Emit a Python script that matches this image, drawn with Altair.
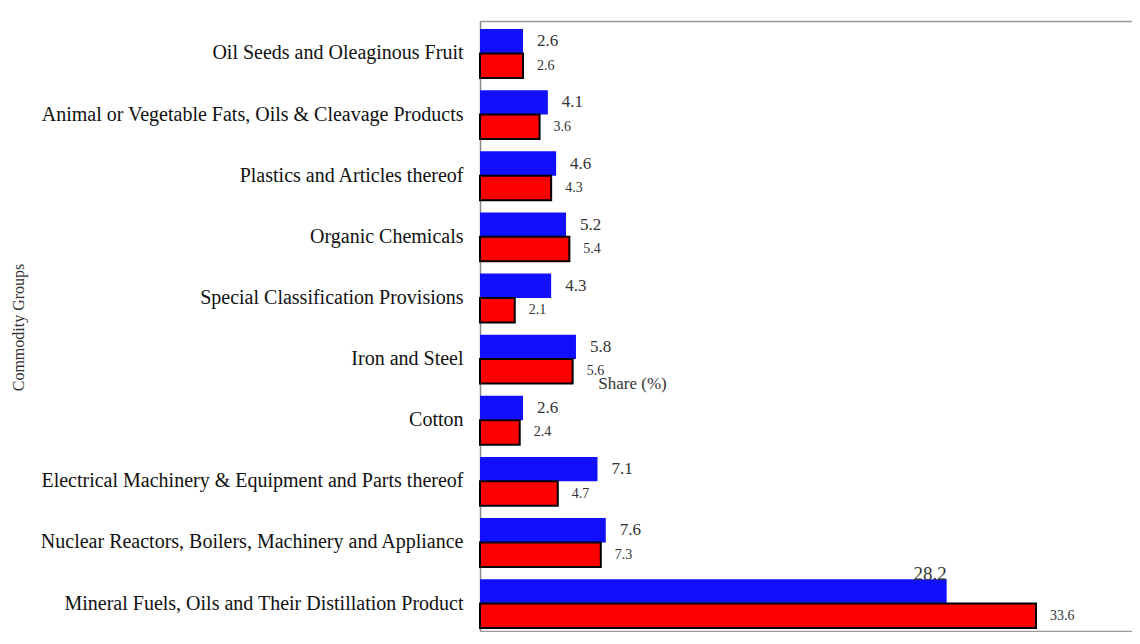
import altair as alt
import pandas as pd

categories = [
    "Oil Seeds and Oleaginous Fruit",
    "Animal or Vegetable Fats, Oils & Cleavage Products",
    "Plastics and Articles thereof",
    "Organic Chemicals",
    "Special Classification Provisions",
    "Iron and Steel",
    "Cotton",
    "Electrical Machinery & Equipment and Parts thereof",
    "Nuclear Reactors, Boilers, Machinery and Appliance",
    "Mineral Fuels, Oils and Their Distillation Product",
]
series_names = ["Series 1", "Series 2"]
blue_values = [2.6, 4.1, 4.6, 5.2, 4.3, 5.8, 2.6, 7.1, 7.6, 28.2]
red_values = [2.6, 3.6, 4.3, 5.4, 2.1, 5.6, 2.4, 4.7, 7.3, 33.6]

rows = []
for c, b, r in zip(categories, blue_values, red_values):
    rows.append({"category": c, "series": series_names[0], "value": b})
    rows.append({"category": c, "series": series_names[1], "value": r})
df = pd.DataFrame(rows)

FONT = "Liberation Serif"
W, H = 652, 610

xscale = alt.Scale(domain=[0, 39.4], nice=False, zero=True)
yaxis = alt.Axis(
    title="Commodity Groups",
    titleFont=FONT,
    titleFontSize=16,
    titleFontWeight="normal",
    titleColor="#333",
    titleX=-462,
    titleY=306,
    titleAngle=-90,
    titleAlign="center",
    titleBaseline="middle",
    labelFont=FONT,
    labelFontSize=20,
    labelColor="#111",
    labelPadding=17,
    labelLimit=600,
    ticks=False,
    grid=False,
    domainColor="#888",
    domainWidth=1.5,
)
yscale = alt.Scale(paddingInner=0.2, paddingOuter=0.09, align=0.73)
yoff = alt.YOffset("series:N", sort=series_names, scale=alt.Scale(paddingInner=0, paddingOuter=0))
color = alt.Color(
    "series:N",
    scale=alt.Scale(domain=series_names, range=["#1010ff", "#ff0000"]),
    legend=None,
)

bars = alt.Chart(df).mark_bar().encode(
    x=alt.X(
        "value:Q",
        scale=xscale,
        axis=alt.Axis(
            title="Share (%)",
            titleFont=FONT,
            titleFontSize=17,
            titleFontWeight="normal",
            titleColor="#333",
            titleX=152,
            titleY=-248,
            titleAlign="center",
            titleBaseline="middle",
            labels=False,
            ticks=False,
            grid=False,
            domainColor="#999",
            domainWidth=1.5,
        ),
    ),
    y=alt.Y("category:N", sort=categories, scale=yscale, axis=yaxis),
    yOffset=yoff,
    color=color,
    stroke=alt.Stroke(
        "series:N",
        scale=alt.Scale(domain=series_names, range=["#1010ff", "#000000"]),
        legend=None,
    ),
    strokeWidth=alt.StrokeWidth(
        "series:N",
        scale=alt.Scale(domain=series_names, range=[0, 2]),
        legend=None,
    ),
)

label_size = alt.Size(
    "series:N", scale=alt.Scale(domain=series_names, range=[17, 14]), legend=None
)

labels = alt.Chart(df).transform_filter(
    "datum.value < 20 || datum.series == 'Series 2'"
).mark_text(font=FONT, align="left", baseline="middle", dx=14, color="#333").encode(
    x=alt.X(
        "value:Q",
        scale=xscale,
        axis=alt.Axis(
            orient="top",
            title=None,
            labels=False,
            ticks=False,
            grid=False,
            domainColor="#999",
            domainWidth=1.5,
        ),
    ),
    y=alt.Y("category:N", sort=categories, scale=yscale, axis=yaxis),
    yOffset=yoff,
    text=alt.Text("value:Q", format=".1f"),
    size=label_size,
)

big_labels = alt.Chart(df).transform_filter(
    "datum.value >= 20 && datum.series == 'Series 1'"
).mark_text(font=FONT, align="right", baseline="middle", dy=-17, fontSize=19, color="#333").encode(
    x=alt.X("value:Q", scale=xscale, axis=None),
    y=alt.Y("category:N", sort=categories, scale=yscale, axis=yaxis),
    yOffset=yoff,
    text=alt.Text("value:Q", format=".1f"),
)

chart = (
    alt.layer(bars, labels, big_labels)
    .resolve_axis(x="independent")
    .properties(
        width=W,
        height=H,
        autosize=alt.AutoSizeParams(type="none"),
        padding={"left": 472, "top": 13, "right": 0, "bottom": 1},
        background="white",
    )
    .configure_view(stroke=None)
)

chart.save("out.html", embed_options={"renderer": "svg", "actions": False})
